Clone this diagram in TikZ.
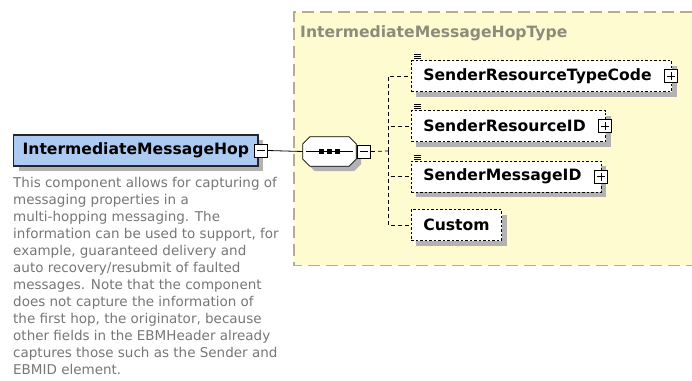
\documentclass[tikz,border=0pt]{standalone}
\usepackage{fontspec}
\setmainfont{DejaVu Sans}
\usepackage{tikz}
\usetikzlibrary{positioning,shadows}
\definecolor{hopblue}{RGB}{172,202,242}
\definecolor{typeyellow}{RGB}{255,251,208}
\definecolor{typeedge}{RGB}{180,174,142}
\definecolor{typetitle}{RGB}{140,140,122}
\definecolor{notegray}{RGB}{118,118,118}
\definecolor{shadowgray}{RGB}{178,178,178}

\tikzset{
  shade box/.style={drop shadow={fill=shadowgray,opacity=1,shadow xshift=5pt,shadow yshift=-5pt}},
  boldlabel/.style={font=\bfseries\fontsize{15.6}{18}\selectfont},
  elembox/.style={draw=black!85,fill=hopblue,line width=1.2pt,shade box,boldlabel,inner xsep=9pt,minimum height=31pt,anchor=west},
  childbox/.style={draw,dash pattern=on 2.5pt off 2pt,line width=0.8pt,fill=white,shade box,boldlabel,inner xsep=12pt,minimum height=31pt,anchor=west},
  ctlbox/.style={draw,fill=white,minimum size=13pt,inner sep=0pt,line width=0.7pt},
  minusbox/.style={ctlbox,path picture={\draw ([xshift=2.5pt]path picture bounding box.west) -- ([xshift=-2.5pt]path picture bounding box.east);}},
  plusbox/.style={ctlbox,path picture={\draw ([xshift=2.5pt]path picture bounding box.west) -- ([xshift=-2.5pt]path picture bounding box.east);
      \draw ([yshift=2.5pt]path picture bounding box.south) -- ([yshift=-2.5pt]path picture bounding box.north);}},
  seqbox/.style={minimum width=53pt,minimum height=29pt,inner sep=0pt},
  branch/.style={dash pattern=on 4pt off 3pt,line width=0.8pt},
  typeedge line/.style={draw=typeedge,line width=1.1pt,dash pattern=on 12pt off 6pt}
}

\begin{document}
\begin{tikzpicture}[x=1pt,y=-1pt]
  \useasboundingbox (0,0) rectangle (692,380);
  % complex type container (runs off the right edge)
  \node[fill=typeyellow,minimum width=398pt,minimum height=253pt,inner sep=0pt,anchor=north west] (hoptype) at (294,12) {};
  \draw[typeedge line] (hoptype.north east) -- (hoptype.north west) -- (hoptype.south west) -- (hoptype.south east);
  \node[boldlabel,text=typetitle,anchor=base west,inner sep=0pt] (hoptitle) at (300,37) {IntermediateMessageHopType};
  % element and its note
  \node[elembox] (hop) at (13,150.5) {IntermediateMessageHop};
  \node[minusbox,right=-4.5pt of hop] (hopminus) {};
  \node[anchor=north west,align=left,inner sep=0pt,text=notegray,font=\fontsize{13.5}{17}\selectfont] (hopnote) at (13,177) {This component allows for capturing of\\messaging properties in a\\multi-hopping messaging. The\\information can be used to support, for\\example, guaranteed delivery and\\auto recovery/resubmit of faulted\\messages. Note that the component\\does not capture the information of\\the first hop, the originator, because\\other fields in the EBMHeader already\\captures those such as the Sender and\\EBMID element.};
  % sequence compositor
  \node[seqbox] (seq) at (329.5,151.5) {};
  \filldraw[fill=white,line width=0.8pt,shade box] ([xshift=7pt]seq.north west) -- ([xshift=-7pt]seq.north east)
    -- ([yshift=-7pt]seq.north east) -- ([yshift=7pt]seq.south east) -- ([xshift=-7pt]seq.south east)
    -- ([xshift=7pt]seq.south west) -- ([yshift=7pt]seq.south west) -- ([yshift=-7pt]seq.north west) -- cycle;
  \draw[line width=0.8pt] ([xshift=3pt]seq.west) -- ([xshift=-3pt]seq.east);
  \foreach \dx in {-8,0,8}
    \fill ([shift={(\dx-2.2,-2.2)}]seq.center) rectangle ++(4.4,4.4);
  \node[minusbox,right=1pt of seq] (seqminus) {};
  \draw[line width=0.8pt] (hopminus.east) -- (seq.west);
  \coordinate (trunk) at (388,151);
  \draw[branch] (seqminus.east) -- (trunk);
  % child elements
  \node[childbox] (srtc) at (411,76) {SenderResourceTypeCode\kern8pt};
  \node[childbox] (srid) at (411,126) {SenderResourceID\kern8pt};
  \node[childbox] (smid) at (411,176.5) {SenderMessageID\kern8pt};
  \node[childbox] (custom) at (411,225) {Custom};
  \foreach \c in {srtc,srid,smid} {
    \node[plusbox,xshift=-1pt] (\c plus) at (\c.east) {};
    \foreach \k in {1.5,3.5,5.5}
      \draw[line width=0.7pt] ([shift={(3,-\k)}]\c.north west) -- ++(7,0);
  }
  \foreach \c in {srtc,srid,smid,custom}
    \draw[branch] (trunk) |- (\c.west);
\end{tikzpicture}
\end{document}
